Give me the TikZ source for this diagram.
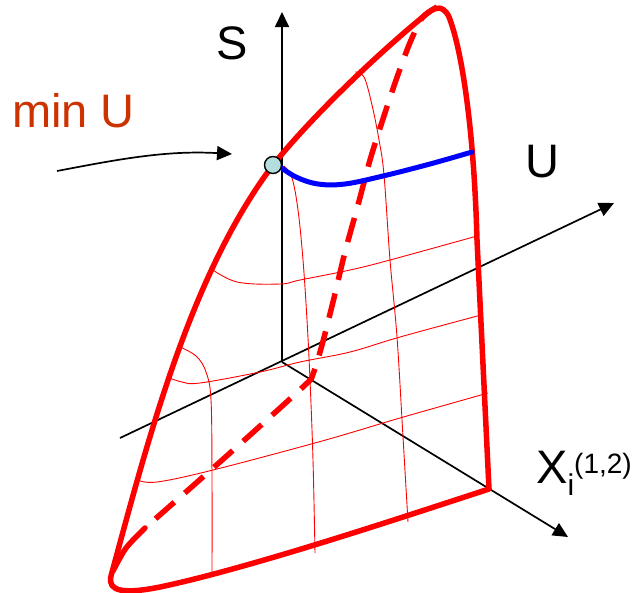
\documentclass[tikz,border=0pt]{standalone}
\usepackage{fontspec}
\setmainfont{Liberation Sans}
\usetikzlibrary{arrows.meta}
\definecolor{minred}{RGB}{204,51,0}
\definecolor{dotfill}{RGB}{180,222,222}
\begin{document}
\begin{tikzpicture}[x=1pt,y=-1pt,
  axis/.style={black, line width=1.7pt, -{Triangle[length=15pt,width=14pt]}},
  mesh/.style={red, line width=0.9pt},
  rim/.style={red, line width=5.5pt, line join=round, line cap=round},
  hidden/.style={red, line width=5.5pt},
  upath/.style={blue, line width=5pt, line cap=round},
  lbl/.style={font=\fontsize{47}{50}\selectfont, inner sep=0pt, anchor=base west}]
\useasboundingbox (0,0) rectangle (644,592);
% axes
\coordinate (O) at (282,362);
\coordinate (Stip) at (282,12);
\coordinate (Ubeg) at (120,438);
\coordinate (Utip) at (614,203);
\coordinate (Xtip) at (568,537);
\draw[axis] (O) -- (Stip);
\draw[axis] (Ubeg) -- (Utip);
\draw[axis] (O) -- (Xtip);
% mesh lines
\draw[mesh] plot[smooth, tension=0.6] coordinates {(284,166) (292,178) (298,210) (303,260) (307,320) (310,380) (313,460) (315,553)};
\draw[mesh] plot[smooth, tension=0.6] coordinates {(355,72) (364,77) (372,105) (379,140) (384,175) (390,260) (397,337) (403,437) (408,522)};
\draw[mesh] plot[smooth, tension=0.6] coordinates {(178,346) (196,356) (206,372) (211,400) (212,480) (212,577)};
\draw[mesh] plot[smooth, tension=0.6] coordinates {(210,268) (237,282) (280,284) (300,280) (350,270) (390,260) (477,236)};
\draw[mesh] plot[smooth, tension=0.6] coordinates {(167,377) (182,382) (200,383) (260,372) (300,362) (350,352) (400,337) (481,315)};
\draw[mesh] plot[smooth, tension=0.6] coordinates {(138,480) (157,482) (213,470) (322,441) (400,418) (488,393)};
% outline
\draw[rim] (489,489) .. controls (400,518) and (250,568) .. (160,587)
  .. controls (125,594) and (107,592) .. (111,576)
  .. controls (148,440) and (190,275) .. (273,165)
  .. controls (313,115) and (380,52) .. (424,16)
  .. controls (432,9) and (442,2) .. (449,17)
  .. controls (462,50) and (474,130) .. (477,240)
  -- (489,489);
% hidden edge
\draw[hidden, line cap=round] plot[smooth, tension=0.5] coordinates {(113,571) (126,548) (145,528)};
\draw[hidden, dash pattern=on 25pt off 14pt, dash phase=25pt] plot[smooth, tension=0.45] coordinates {(145,528) (230,453) (304,386) (313,374) (322,345) (333,302) (345,252) (358,205) (370,160) (382,122) (395,83) (409,45) (422,18) (437,7)};
% U path
\draw[upath] plot[smooth, tension=0.6] coordinates {(279,166) (296,177) (318,184) (345,184) (383,176) (430,164) (472,152)};
% minimum point
\node[circle, draw=black, line width=1.4pt, fill=dotfill, minimum size=17pt, inner sep=0pt] (minpt) at (273,165) {};
% min U arrow
\coordinate (arrstart) at (57,171);
\coordinate (arrend) at (232,154);
\draw[axis] (arrstart) .. controls (115,160) and (165,150) .. (arrend);
% labels
\node[lbl] (Slabel) at (216,59) {S};
\node[lbl] (Ulabel) at (525,177) {U};
\node[lbl, text=minred] (minlabel) at (12,127) {min U};
\node[lbl] (Xlabel) at (536,483) {X\raisebox{-12pt}{\fontsize{30}{30}\selectfont i}\raisebox{10pt}{\fontsize{28}{28}\selectfont (1,2)}};
\end{tikzpicture}
\end{document}
